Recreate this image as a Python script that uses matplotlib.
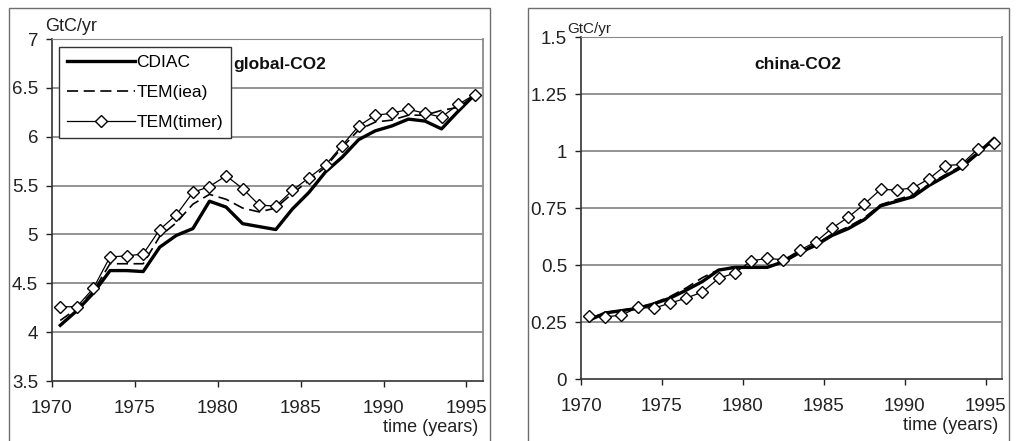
import numpy as np
import matplotlib
matplotlib.use("Agg")
import matplotlib.pyplot as plt
from matplotlib.patches import Rectangle
from matplotlib.lines import Line2D

plt.rcParams['font.family'] = ['Liberation Sans', 'DejaVu Sans']
plt.rcParams['lines.scale_dashes'] = False

# years (points sit in the middle of each year's category)
years = np.arange(1970, 1996)

# global CO2 emissions, GtC/yr
global_cdiac = [4.07, 4.22, 4.40, 4.63, 4.63, 4.62, 4.87, 4.99, 5.06, 5.34, 5.28, 5.11, 5.08,
                5.05, 5.26, 5.43, 5.64, 5.79, 5.97, 6.06, 6.11, 6.18, 6.16, 6.08, 6.26, 6.43]
global_iea = [4.12, 4.24, 4.42, 4.70, 4.70, 4.70, 4.98, 5.12, 5.31, 5.41, 5.36, 5.27, 5.23,
              5.27, 5.42, 5.55, 5.69, 5.89, 6.07, 6.15, 6.17, 6.22, 6.22, 6.27, 6.30, 6.42]
global_timer = [4.26, 4.26, 4.45, 4.77, 4.78, 4.80, 5.05, 5.20, 5.43, 5.49, 5.60, 5.47, 5.30,
                5.29, 5.45, 5.58, 5.71, 5.91, 6.11, 6.22, 6.24, 6.28, 6.24, 6.20, 6.33, 6.43]

# china CO2 emissions, GtC/yr
china_cdiac = [0.258, 0.290, 0.300, 0.310, 0.330, 0.355, 0.390, 0.428, 0.478, 0.490, 0.490, 0.490,
               0.515, 0.555, 0.587, 0.630, 0.660, 0.700, 0.760, 0.780, 0.800, 0.850, 0.890, 0.930,
               0.990, 1.055]
china_iea = [0.265, 0.292, 0.302, 0.312, 0.333, 0.362, 0.400, 0.445, 0.480, 0.492, 0.492, 0.492,
             0.518, 0.560, 0.592, 0.636, 0.668, 0.708, 0.765, 0.788, 0.808, 0.855, 0.897, 0.936,
             0.995, 1.050]
china_timer = [0.276, 0.273, 0.280, 0.314, 0.311, 0.333, 0.355, 0.382, 0.442, 0.465, 0.518, 0.530,
               0.523, 0.565, 0.602, 0.662, 0.710, 0.768, 0.832, 0.830, 0.839, 0.879, 0.937, 0.942,
               1.010, 1.035]

x_ticks = [1970, 1975, 1980, 1985, 1990, 1995]
global_yticks = [3.5, 4, 4.5, 5, 5.5, 6, 6.5, 7]
global_ylabels = ['3.5', '4', '4.5', '5', '5.5', '6', '6.5', '7']
china_yticks = [0, 0.25, 0.5, 0.75, 1, 1.25, 1.5]
china_ylabels = ['0', '0.25', '0.5', '0.75', '1', '1.25', '1.5']

fig = plt.figure(figsize=(10.17, 4.41), dpi=100)
fig.patch.set_facecolor('white')

# outer frames around each panel
for x0 in (9, 528):
    fig.patches.append(Rectangle((x0 / 1017, -0.05), 481 / 1017, 1.05 - 8 / 441,
                                 transform=fig.transFigure, fill=False,
                                 edgecolor='#6e6e6e', lw=1.0))

ax1 = fig.add_axes([52 / 1017, 1 - 381 / 441, 431 / 1017, 342 / 441])
ax2 = fig.add_axes([581 / 1017, 1 - 379 / 441, 421 / 1017, 341.7 / 441])

xs = years + 0.5
grid_c = '#8a8a8a'


def draw_panel(ax, cdiac, iea, timer, yticks, ylabels, title, tx, ty):
    ax.plot(xs, cdiac, color='black', lw=2.4, zorder=3, label='CDIAC')
    ax.plot(xs, iea, color='black', lw=1.2, dashes=(8, 4), zorder=4, label='TEM(iea)')
    ax.plot(xs, timer, color='black', lw=0.9, marker='D', markersize=6,
            markerfacecolor='white', markeredgecolor='black', markeredgewidth=1.0,
            zorder=5, label='TEM(timer)')
    ax.set_xlim(1970, 1996)
    ax.set_ylim(yticks[0], yticks[-1])
    ax.set_yticks(yticks)
    ax.set_yticklabels(ylabels)
    ax.set_xticks(x_ticks)
    ax.tick_params(axis='both', labelsize=13.5, colors='#222222', direction='out',
                   length=4, width=1.0, pad=6)
    ax.tick_params(axis='x', pad=10)
    for y in yticks[1:]:
        ax.axhline(y, color=grid_c, lw=1.3, zorder=1)
    ax.spines['left'].set_color('#333333')
    ax.spines['bottom'].set_color('#333333')
    ax.spines['left'].set_linewidth(1.2)
    ax.spines['bottom'].set_linewidth(1.2)
    ax.spines['top'].set_color(grid_c)
    ax.spines['right'].set_color(grid_c)
    ax.spines['right'].set_linewidth(1.3)
    ax.text(tx, ty, title, transform=ax.transAxes, fontsize=12.5, fontweight='bold',
            ha='left', va='center', color='#111111')
    ax.text(0.99, -0.112, 'time (years)', transform=ax.transAxes, fontsize=13,
            ha='right', va='top', color='#222222')


draw_panel(ax1, global_cdiac, global_iea, global_timer, global_yticks, global_ylabels,
           'global-CO2', 0.42, 0.924)
draw_panel(ax2, china_cdiac, china_iea, china_timer, china_yticks, china_ylabels,
           'china-CO2', 0.413, 0.919)

fig.text(45 / 1017, 1 - 31 / 441, 'GtC/yr', fontsize=13, color='#222222', ha='left', va='baseline')
fig.text(567 / 1017, 1 - 33 / 441, 'GtC/yr', fontsize=11, color='#222222', ha='left', va='baseline')

handles = [
    Line2D([], [], color='black', lw=2.4),
    Line2D([], [], color='black', lw=1.2, dashes=(8, 4)),
    Line2D([], [], color='black', lw=0.9, marker='D', markersize=6,
           markerfacecolor='white', markeredgecolor='black'),
]
leg = ax1.legend(handles, ['CDIAC', 'TEM(iea)', 'TEM(timer)'], loc='upper left',
                 bbox_to_anchor=(7 / 431, 1 - 8 / 342), fontsize=12.5, frameon=True,
                 fancybox=False, edgecolor='#333333', framealpha=1, handlelength=3.9,
                 handletextpad=0.1, borderpad=0.45, labelspacing=0.85, borderaxespad=0,
                 numpoints=1)
leg.get_frame().set_linewidth(1.0)
leg.set_zorder(10)

fig.savefig('out.png', dpi=100, facecolor='white')
